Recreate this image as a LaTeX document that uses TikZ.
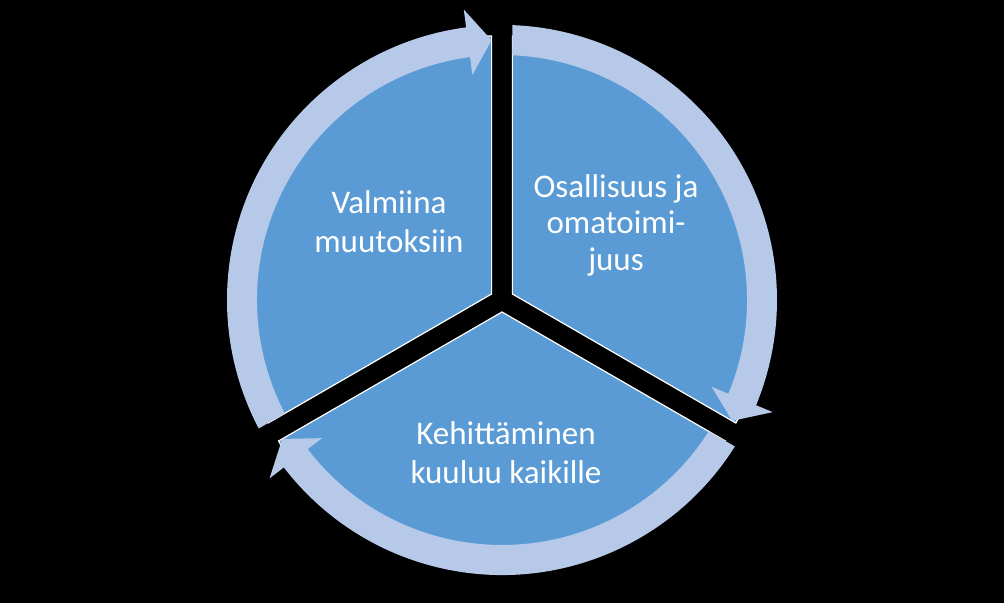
\documentclass[tikz,border=0pt]{standalone}
\usepackage{fontspec}
\setmainfont{Carlito}
\usetikzlibrary{calc}
\definecolor{segblue}{RGB}{91,155,213}
\definecolor{ringblue}{RGB}{183,201,232}
\begin{document}
\begin{tikzpicture}[x=1pt,y=1pt,
  seg/.style={fill=segblue, draw=white, line width=1.2pt, line join=miter},
  ringarrow/.style={fill=ringblue},
  txt/.style={text=white, font=\fontsize{33}{39.5}\selectfont, align=center, inner sep=0pt}]
\useasboundingbox (0,0) rectangle (1004,603);
\fill[black] (0,0) rectangle (1004,603);
\coordinate (C) at (502,303);
% segments (exploded pie)
\foreach \a/\n in {-30/R, 90/L, 210/B} {
  \pgfmathsetmacro\b{\a+60}
  \coordinate (P\n) at ($(C)+(\b:12)$);
  \path[seg] (P\n) -- ++(\a:258) arc[start angle=\a, end angle=\a+120, radius=258] -- cycle;
}
% circular arrows, each clipped to its segment's wedge
\foreach \a/\n/\s/\bk/\tp in {-30/R/105/-22.5/-27.7, 90/L/225/97.5/92.3, 210/B/345/217.5/212.3} {
  \pgfmathsetmacro\b{\a+60}
  \pgfmathsetmacro\e{\a+120}
  \begin{scope}
    \clip (P\n) -- ($(P\n)+(\a:400)$) -- ($(P\n)+(\b:800)$) -- ($(P\n)+(\e:400)$) -- cycle;
    \path[ringarrow] ($(C)+(\s:275)$) arc[start angle=\s, end angle=\bk, radius=275]
      -- ($(C)+(\bk:293)$) -- ($(C)+(\tp:260)$) -- ($(C)+(\bk:227)$) -- ($(C)+(\bk:245)$)
      arc[start angle=\bk, end angle=\s, radius=245] -- cycle;
  \end{scope}
}
% texts
\node[txt] (t1) at (389,381.5) {Valmiina\\muutoksiin};
\node[txt, font=\fontsize{33}{36.5}\selectfont] (t2) at (616,377.7) {Osallisuus ja\\omatoimi-\\juus};
\node[txt] (t3) at (506,150.2) {Kehittäminen\\kuuluu kaikille};
\end{tikzpicture}
\end{document}
